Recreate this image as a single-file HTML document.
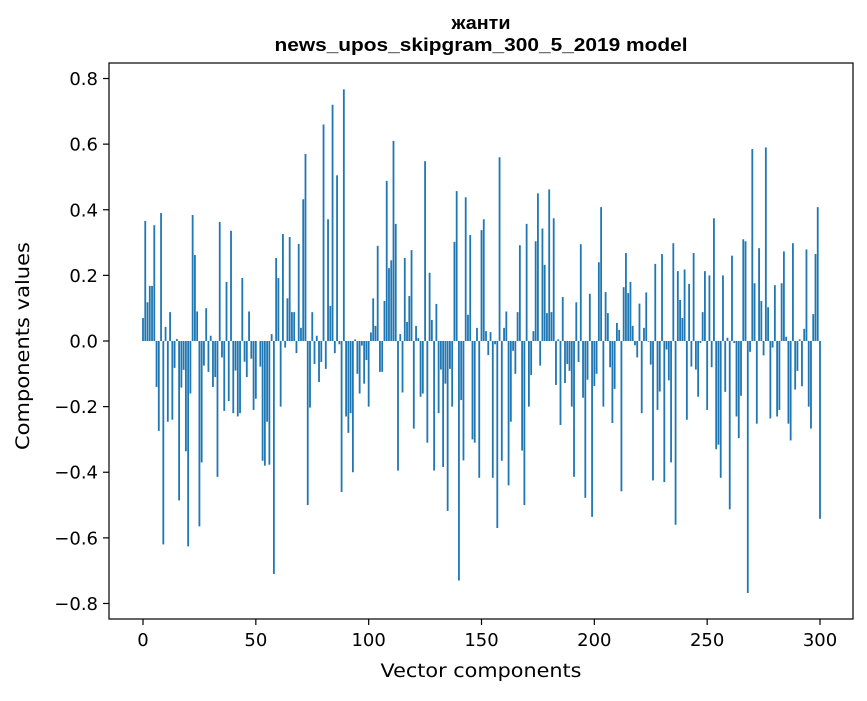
<!DOCTYPE html>
<html><head><meta charset="utf-8"><style>
body{margin:0;background:#fff;}
svg text{font-family:"DejaVu Sans","Liberation Sans",sans-serif;fill:#000;}
svg text.title{font-family:"Liberation Sans","DejaVu Sans",sans-serif;}
</style></head><body>
<svg id="chart" width="867" height="696" viewBox="0 0 867 696" xmlns="http://www.w3.org/2000/svg">
<rect width="867" height="696" fill="#fff"/>
<text class="title" x="481" y="29" font-size="18" font-weight="bold" text-anchor="middle" textLength="59" lengthAdjust="spacingAndGlyphs">жанти</text>
<text class="title" x="481" y="51" font-size="18" font-weight="bold" text-anchor="middle" textLength="413" lengthAdjust="spacingAndGlyphs">news_upos_skipgram_300_5_2019 model</text>
<g id="bars"></g>
<g id="axes"></g>
<rect x="109" y="63" width="744" height="556" fill="none" stroke="#000" stroke-width="1.2"/>
<text x="481" y="677" font-size="19" text-anchor="middle" textLength="201" lengthAdjust="spacingAndGlyphs">Vector components</text>
<text transform="translate(29,346) rotate(-90)" font-size="19" text-anchor="middle" textLength="208" lengthAdjust="spacingAndGlyphs">Components values</text>
</svg>
<script>
const values1 = [0.07,0.366,0.118,0.168,0.168,0.353,-0.14,-0.274,0.39,-0.62,0.043,-0.246,0.088,-0.24,-0.082,0.006,-0.486,-0.142,-0.088,-0.336,-0.626,-0.16,0.384,0.262,0.09,-0.565,-0.37,-0.075,0.1,-0.094,0.016,-0.14,-0.11,-0.414,0.363,-0.05,-0.213,0.18,-0.183,0.336,-0.22,-0.09,-0.23,-0.22,0.192,-0.063,-0.11,0.09,-0.054,-0.21];
const values2 = [-0.176,0,-0.078,-0.365,-0.38,-0.246,-0.377,0.021,-0.71,0.253,0.192,-0.2,0.326,-0.02,0.13,0.317,0.088,0.088,-0.037,0.296,0.04,0.432,0.57,-0.5,-0.203,0.088,-0.07,0.016,-0.125,-0.064,0.66,-0.085,0.371,0.107,0.72,-0.037,0.505,-0.01,-0.46,0.767,-0.23,-0.28,-0.22,-0.4,0.005,-0.1,-0.16,-0.014,-0.13,-0.058];
const values3 = [-0.2,0.026,0.13,0.046,0.29,-0.094,-0.094,0.122,0.488,0.222,0.246,0.61,0.357,-0.395,0.021,-0.157,0.253,0.058,0.137,0.277,-0.267,0.046,0.009,-0.17,-0.16,0.548,-0.31,0.208,0.064,-0.395,0.113,-0.22,-0.087,-0.384,-0.13,-0.518,-0.085,-0.2,0.302,0.457,-0.73,-0.18,-0.364,0.438,0.08,0.323,-0.3,-0.31,0.04,-0.417];
const values4 = [0.338,0.371,0.03,-0.043,0.027,-0.417,-0.01,-0.57,0.56,-0.365,0.04,0.09,-0.44,-0.246,-0.03,-0.1,0.088,0.292,-0.334,-0.5,0.357,-0.2,-0.104,0.03,0.304,0.45,-0.075,0.343,0.232,0.085,0.462,0.088,0.374,-0.134,0.005,-0.256,0.134,-0.128,-0.07,-0.091,-0.2,-0.414,0.118,-0.064,0.295,-0.173,-0.478,-0.118,0.144,-0.536];
const values5 = [-0.137,-0.1,0.24,0.408,-0.2,0.149,0.085,-0.08,-0.25,-0.146,0.055,0.034,-0.458,0.164,0.268,0.146,0.18,0.046,-0.013,-0.05,0.114,-0.22,0.04,0.148,-0.002,-0.072,-0.425,0.235,-0.21,-0.154,0.265,-0.43,-0.026,-0.12,-0.37,0.298,-0.56,0.213,0.125,0.07,0.218,-0.24,0.174,-0.078,0.268,-0.087,-0.17,-0.006,0.088,0.213,-0.21];
const values6 = [0.2,-0.08,0.374,-0.33,-0.316,-0.417,0.2,-0.155,0.01,-0.513,0.26,-0.006,-0.23,-0.296,-0.167,0.31,0.304,-0.768,-0.033,0.585,0.176,-0.252,0.283,0.122,-0.044,0.59,0.103,-0.236,-0.02,0.17,-0.23,-0.21,0.176,0.273,0.013,-0.252,-0.303,0.298,-0.148,-0.091,0.005,-0.138,0.037,0.279,-0.2,-0.267,0.082,0.265,0.408,-0.542];
const values = values1.concat(values2, values3, values4, values5, values6);
const xTicks = [0,50,100,150,200,250,300];
const yTicks = [-0.8,-0.6,-0.4,-0.2,0.0,0.2,0.4,0.6,0.8];

const NS = "http://www.w3.org/2000/svg";
function xs(v){ return 143 + v*(677/300); }
function ys(v){ return 341 - v*328.1; }
const barsG = document.getElementById('bars');
values.forEach((v,i)=>{
  const r = document.createElementNS(NS,'rect');
  const y0 = ys(0), y1 = ys(v);
  r.setAttribute('x', xs(i-0.4));
  r.setAttribute('width', xs(i+0.4)-xs(i-0.4));
  r.setAttribute('y', Math.min(y0,y1));
  r.setAttribute('height', Math.abs(y1-y0));
  r.setAttribute('fill', '#1f77b4');
  
  
  barsG.appendChild(r);
});
const axesG = document.getElementById('axes');
xTicks.forEach(t=>{
  const l = document.createElementNS(NS,'line');
  l.setAttribute('x1', xs(t)); l.setAttribute('x2', xs(t));
  l.setAttribute('y1', 619); l.setAttribute('y2', 625);
  l.setAttribute('stroke', '#000'); l.setAttribute('stroke-width', '1.2');
  
  
  axesG.appendChild(l);
  const tx = document.createElementNS(NS,'text');
  tx.setAttribute('x', xs(t)); tx.setAttribute('y', 646);
  tx.setAttribute('font-size', '18'); tx.setAttribute('text-anchor', 'middle');
  tx.textContent = String(t);
  
  
  axesG.appendChild(tx);
});
yTicks.forEach(t=>{
  const l = document.createElementNS(NS,'line');
  l.setAttribute('x1', 103); l.setAttribute('x2', 109);
  l.setAttribute('y1', ys(t)); l.setAttribute('y2', ys(t));
  l.setAttribute('stroke', '#000'); l.setAttribute('stroke-width', '1.2');
  
  
  axesG.appendChild(l);
  const tx = document.createElementNS(NS,'text');
  tx.setAttribute('x', 98); tx.setAttribute('y', ys(t)+6.5);
  tx.setAttribute('font-size', '18'); tx.setAttribute('text-anchor', 'end');
  tx.textContent = (t<0?'\u2212':'') + Math.abs(t).toFixed(1);
  
  
  axesG.appendChild(tx);
});
</script>
</body></html>
